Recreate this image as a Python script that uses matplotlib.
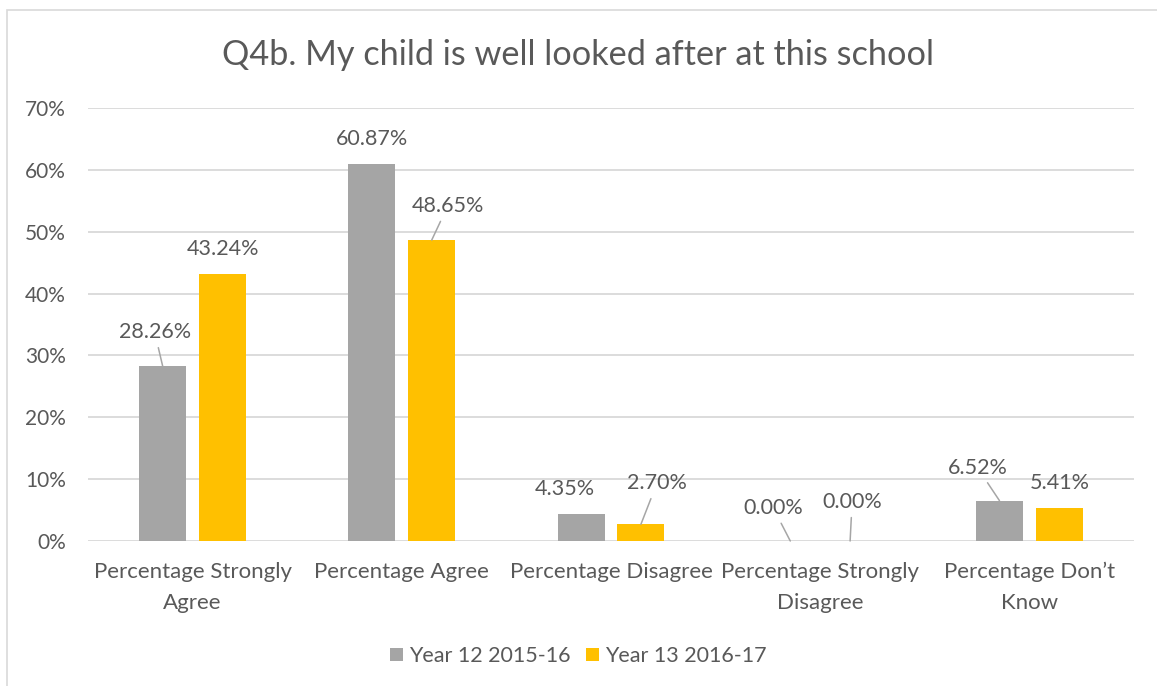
import matplotlib.pyplot as plt
import matplotlib.patches as mpatches
import numpy as np

plt.rcParams["font.family"] = ["Lato", "DejaVu Sans"]

# data
categories = [
    "Percentage Strongly\nAgree",
    "Percentage Agree",
    "Percentage Disagree",
    "Percentage Strongly\nDisagree",
    "Percentage Don\u2019t\nKnow",
]
year12 = [28.26, 60.87, 4.35, 0.00, 6.52]
year13 = [43.24, 48.65, 2.70, 0.00, 5.41]
series_names = ["Year 12 2015-16", "Year 13 2016-17"]
title = "Q4b. My child is well looked after at this school"

# label placement (pixel offsets from bar top) and whether a leader line is drawn
offsets12 = [(-8, 34), (0, 25), (-16, 25), (-17, 33), (-22, 33)]
offsets13 = [(0, 25), (16, 34), (16, 41), (2, 39), (0, 25)]
leader12 = [True, False, False, True, True]
leader13 = [False, True, True, True, False]

text_color = "#595959"
grid_color = "#D9D9D9"
colors = ["#A5A5A5", "#FFC000"]

fig = plt.figure(figsize=(11.57, 6.86), dpi=100)
ax = fig.add_axes([88 / 1157, 1 - 541 / 686, (1134 - 88) / 1157, (541 - 108) / 686])

# outer chart border
fig.patches.append(
    mpatches.Rectangle(
        (7 / 1157, -0.05), 1.2, 1 - 10 / 686 + 0.05,
        transform=fig.transFigure, fill=False, edgecolor=grid_color, lw=1.2,
    )
)

x = np.arange(len(categories))
width = 0.224
shift = 0.143
bars12 = ax.bar(x - shift, year12, width, color=colors[0], label=series_names[0], zorder=3)
bars13 = ax.bar(x + shift, year13, width, color=colors[1], label=series_names[1], zorder=3)

ax.set_xlim(-0.5, len(categories) - 0.5)
ax.set_ylim(0, 70)
ax.set_yticks(np.arange(0, 71, 10))
ax.set_yticklabels([f"{v}%" for v in range(0, 71, 10)])
ax.set_xticks(x)
ax.set_xticklabels(categories, linespacing=1.7)
ax.grid(axis="y", color=grid_color, lw=1.3, zorder=0)
for s in ax.spines.values():
    s.set_visible(False)
ax.tick_params(axis="y", length=0, colors=text_color, labelsize=15, pad=16)
ax.tick_params(axis="x", length=0, colors=text_color, labelsize=16, pad=15)


def add_labels(bars, values, offsets, leaders):
    for b, v, off, lead in zip(bars, values, offsets, leaders):
        arrow = dict(arrowstyle="-", color="#A6A6A6", lw=1.1, shrinkA=2, shrinkB=0) if lead else None
        ax.annotate(
            f"{v:.2f}%",
            xy=(b.get_x() + b.get_width() / 2, v),
            xytext=off,
            textcoords="offset pixels",
            ha="center",
            va="center",
            fontsize=15.5,
            color=text_color,
            arrowprops=arrow,
            zorder=4,
        )


add_labels(bars12, year12, offsets12, leader12)
add_labels(bars13, year13, offsets13, leader13)

fig.text(0.5, 1 - 55 / 686, title, ha="center", va="center", fontsize=24.7, color=text_color)

fig.legend(
    handles=[bars12, bars13],
    labels=series_names,
    loc="center",
    bbox_to_anchor=(0.5, 1 - 656 / 686),
    ncol=2,
    frameon=False,
    fontsize=15.5,
    labelcolor=text_color,
    handlelength=0.6,
    handleheight=0.6,
    handletextpad=0.3,
    columnspacing=0.7,
)

fig.savefig("out.png", dpi=100)
